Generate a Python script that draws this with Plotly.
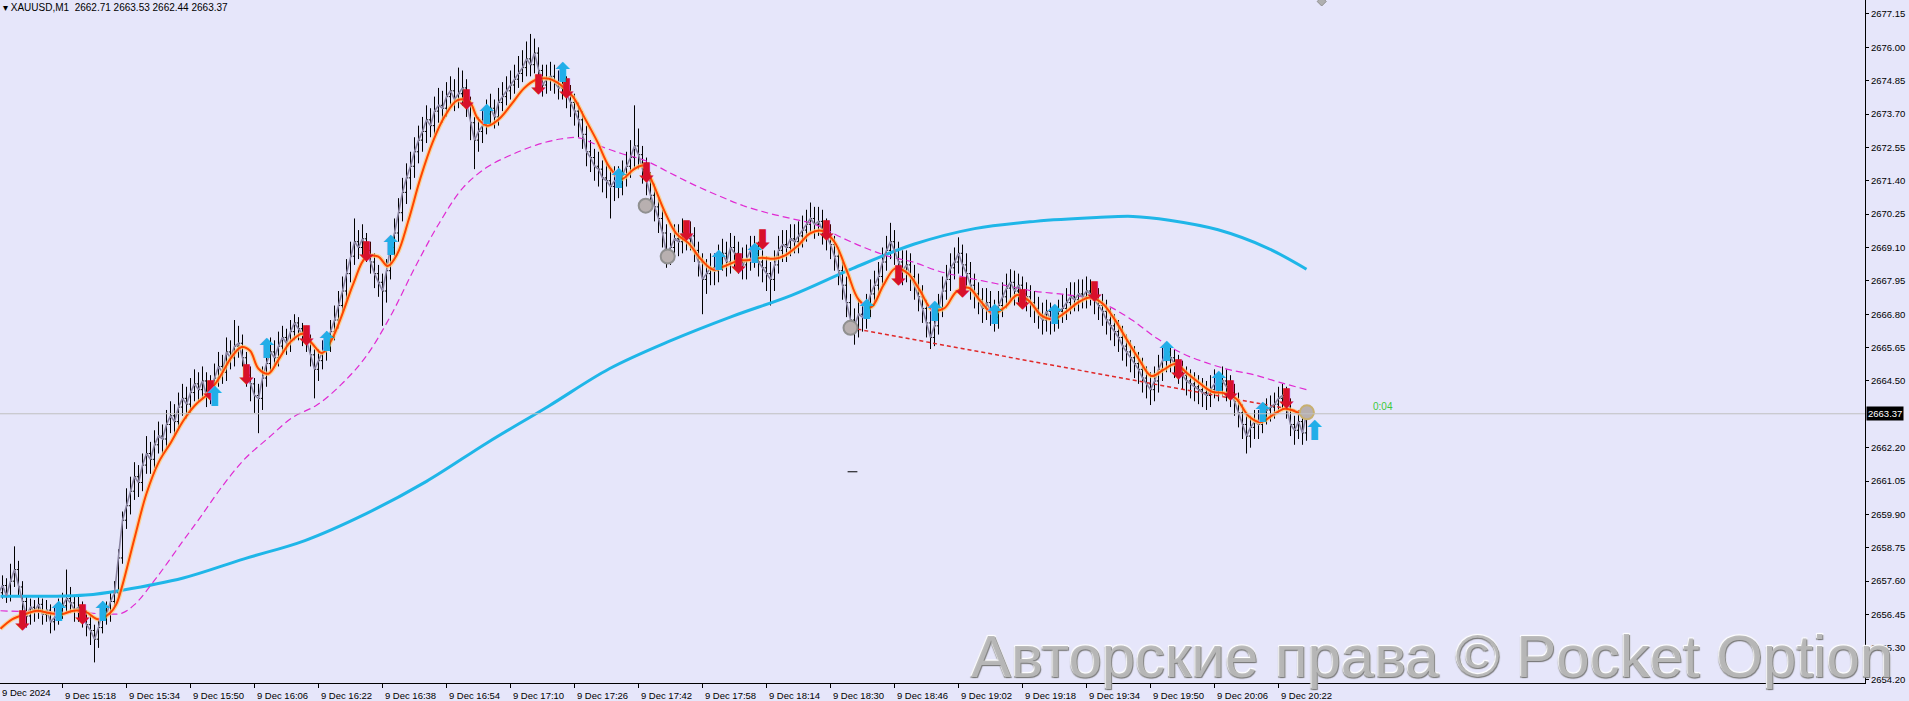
import plotly.graph_objects as go

# ---------------- data ----------------
closes = [2657.20, 2657.45, 2657.10, 2657.60, 2658.00, 2657.40, 2656.90, 2656.40, 2656.70, 2656.55,
 2656.80, 2656.45, 2656.60, 2656.20, 2656.35, 2656.60, 2656.75, 2657.00, 2656.85, 2656.60,
 2656.70, 2656.40, 2656.10, 2655.90, 2655.60, 2656.00, 2656.60, 2656.45, 2656.90, 2657.20,
 2658.40, 2659.70, 2660.20, 2660.70, 2661.20, 2661.00, 2661.60, 2662.00, 2661.80, 2662.30,
 2662.60, 2662.50, 2663.00, 2663.30, 2663.10, 2663.60, 2663.90, 2663.70, 2664.10, 2664.40,
 2664.20, 2664.50, 2664.00, 2664.20, 2664.60, 2665.00, 2664.80, 2665.50, 2665.30, 2665.70,
 2665.80, 2665.30, 2664.70, 2664.40, 2664.00, 2663.90, 2664.60, 2665.10, 2665.50, 2665.30,
 2665.70, 2666.00, 2665.80, 2666.20, 2666.50, 2666.30, 2666.10, 2665.90, 2665.40, 2664.90,
 2665.20, 2665.50, 2665.80, 2666.20, 2666.60, 2667.10, 2667.60, 2668.20, 2668.80, 2669.30,
 2669.10, 2669.40, 2669.00, 2668.60, 2668.20, 2667.90, 2667.60, 2668.30, 2669.10, 2669.60,
 2670.30, 2671.00, 2671.50, 2671.90, 2672.40, 2672.80, 2673.10, 2673.50, 2673.30, 2673.80,
 2674.00, 2673.90, 2674.30, 2674.50, 2674.20, 2674.40, 2674.60, 2674.10, 2673.40, 2672.80,
 2673.10, 2673.30, 2673.70, 2673.90, 2673.60, 2674.10, 2674.30, 2674.50, 2674.70, 2674.90,
 2675.10, 2675.30, 2675.60, 2675.40, 2675.80, 2675.20, 2674.70, 2674.90, 2675.00, 2674.80,
 2674.60, 2674.70, 2674.40, 2674.10, 2673.80, 2673.50, 2673.00, 2672.40, 2672.20, 2671.90,
 2671.80, 2671.50, 2671.40, 2671.20, 2671.40, 2671.30, 2671.60, 2671.90, 2672.20, 2672.60,
 2672.30, 2671.80, 2671.40, 2670.90, 2670.50, 2670.10, 2669.60, 2668.90, 2669.10, 2669.40,
 2669.30, 2669.60, 2669.40, 2669.50, 2669.00, 2668.60, 2668.00, 2668.20, 2668.40, 2668.30,
 2668.70, 2668.90, 2668.60, 2669.10, 2668.90, 2668.70, 2668.50, 2668.70, 2669.00, 2668.90,
 2668.60, 2668.40, 2668.20, 2668.00, 2668.50, 2669.00, 2669.20, 2669.10, 2669.40, 2669.30,
 2669.50, 2669.70, 2669.90, 2670.10, 2669.90, 2670.00, 2669.70, 2669.50, 2669.20, 2668.80,
 2668.30, 2667.80, 2667.20, 2666.60, 2666.40, 2666.80, 2666.70, 2667.00, 2667.50, 2667.80,
 2668.10, 2668.60, 2669.00, 2669.30, 2669.00, 2668.60, 2668.30, 2668.50, 2668.10, 2667.80,
 2667.40, 2667.00, 2666.50, 2666.00, 2666.40, 2667.00, 2667.60, 2668.00, 2668.40, 2668.60,
 2668.90, 2668.50, 2668.20, 2667.80, 2667.50, 2667.30, 2667.00, 2667.20, 2666.90, 2666.70,
 2667.10, 2667.40, 2667.70, 2667.90, 2667.60, 2667.80, 2667.50, 2667.40, 2667.20, 2667.00,
 2666.80, 2666.60, 2666.90, 2666.60, 2666.70, 2666.90, 2667.00, 2667.20, 2667.40, 2667.30,
 2667.50, 2667.40, 2667.60, 2667.50, 2667.30, 2667.10, 2666.90, 2666.60, 2666.40, 2666.20,
 2666.00, 2665.70, 2665.50, 2665.30, 2665.10, 2664.90, 2664.60, 2664.40, 2664.20, 2664.50,
 2664.90, 2665.20, 2665.50, 2665.30, 2665.10, 2664.90, 2664.70, 2664.50, 2664.40, 2664.30,
 2664.20, 2664.10, 2664.00, 2664.20, 2664.40, 2664.30, 2664.50, 2664.30, 2664.10, 2663.80,
 2663.40, 2663.00, 2662.60, 2662.90, 2663.10, 2663.00, 2663.30, 2663.50, 2663.60, 2663.70,
 2663.90, 2664.00, 2663.60, 2663.00, 2662.80, 2663.10, 2662.71, 2663.37]

opens = [2657.00, 2657.20, 2657.45, 2657.10, 2657.60, 2658.00, 2657.40, 2656.90, 2656.40, 2656.70,
 2656.55, 2656.80, 2656.45, 2656.60, 2656.20, 2656.35, 2656.60, 2656.75, 2657.00, 2656.85,
 2656.60, 2656.70, 2656.40, 2656.10, 2655.90, 2655.60, 2656.00, 2656.60, 2656.45, 2656.90,
 2657.20, 2658.40, 2659.70, 2660.20, 2660.70, 2661.20, 2661.00, 2661.60, 2662.00, 2661.80,
 2662.30, 2662.60, 2662.50, 2663.00, 2663.30, 2663.10, 2663.60, 2663.90, 2663.70, 2664.10,
 2664.40, 2664.20, 2664.50, 2664.00, 2664.20, 2664.60, 2665.00, 2664.80, 2665.50, 2665.30,
 2665.70, 2665.80, 2665.30, 2664.70, 2664.40, 2664.00, 2663.90, 2664.60, 2665.10, 2665.50,
 2665.30, 2665.70, 2666.00, 2665.80, 2666.20, 2666.50, 2666.30, 2666.10, 2665.90, 2665.40,
 2664.90, 2665.20, 2665.50, 2665.80, 2666.20, 2666.60, 2667.10, 2667.60, 2668.20, 2668.80,
 2669.30, 2669.10, 2669.40, 2669.00, 2668.60, 2668.20, 2667.90, 2667.60, 2668.30, 2669.10,
 2669.60, 2670.30, 2671.00, 2671.50, 2671.90, 2672.40, 2672.80, 2673.10, 2673.50, 2673.30,
 2673.80, 2674.00, 2673.90, 2674.30, 2674.50, 2674.20, 2674.40, 2674.60, 2674.10, 2673.40,
 2672.80, 2673.10, 2673.30, 2673.70, 2673.90, 2673.60, 2674.10, 2674.30, 2674.50, 2674.70,
 2674.90, 2675.10, 2675.30, 2675.60, 2675.40, 2675.80, 2675.20, 2674.70, 2674.90, 2675.00,
 2674.80, 2674.60, 2674.70, 2674.40, 2674.10, 2673.80, 2673.50, 2673.00, 2672.40, 2672.20,
 2671.90, 2671.80, 2671.50, 2671.40, 2671.20, 2671.40, 2671.30, 2671.60, 2671.90, 2672.20,
 2672.60, 2672.30, 2671.80, 2671.40, 2670.90, 2670.50, 2670.10, 2669.60, 2668.90, 2669.10,
 2669.40, 2669.30, 2669.60, 2669.40, 2669.50, 2669.00, 2668.60, 2668.00, 2668.20, 2668.40,
 2668.30, 2668.70, 2668.90, 2668.60, 2669.10, 2668.90, 2668.70, 2668.50, 2668.70, 2669.00,
 2668.90, 2668.60, 2668.40, 2668.20, 2668.00, 2668.50, 2669.00, 2669.20, 2669.10, 2669.40,
 2669.30, 2669.50, 2669.70, 2669.90, 2670.10, 2669.90, 2670.00, 2669.70, 2669.50, 2669.20,
 2668.80, 2668.30, 2667.80, 2667.20, 2666.60, 2666.40, 2666.80, 2666.70, 2667.00, 2667.50,
 2667.80, 2668.10, 2668.60, 2669.00, 2669.30, 2669.00, 2668.60, 2668.30, 2668.50, 2668.10,
 2667.80, 2667.40, 2667.00, 2666.50, 2666.00, 2666.40, 2667.00, 2667.60, 2668.00, 2668.40,
 2668.60, 2668.90, 2668.50, 2668.20, 2667.80, 2667.50, 2667.30, 2667.00, 2667.20, 2666.90,
 2666.70, 2667.10, 2667.40, 2667.70, 2667.90, 2667.60, 2667.80, 2667.50, 2667.40, 2667.20,
 2667.00, 2666.80, 2666.60, 2666.90, 2666.60, 2666.70, 2666.90, 2667.00, 2667.20, 2667.40,
 2667.30, 2667.50, 2667.40, 2667.60, 2667.50, 2667.30, 2667.10, 2666.90, 2666.60, 2666.40,
 2666.20, 2666.00, 2665.70, 2665.50, 2665.30, 2665.10, 2664.90, 2664.60, 2664.40, 2664.20,
 2664.50, 2664.90, 2665.20, 2665.50, 2665.30, 2665.10, 2664.90, 2664.70, 2664.50, 2664.40,
 2664.30, 2664.20, 2664.10, 2664.00, 2664.20, 2664.40, 2664.30, 2664.50, 2664.30, 2664.10,
 2663.80, 2663.40, 2663.00, 2662.60, 2662.90, 2663.10, 2663.00, 2663.30, 2663.50, 2663.60,
 2663.70, 2663.90, 2664.00, 2663.60, 2663.00, 2662.80, 2663.10, 2662.71]

highs = [2657.55, 2657.80, 2657.70, 2658.20, 2658.80, 2658.30, 2657.60, 2657.10, 2657.00, 2656.95,
 2657.10, 2657.00, 2656.95, 2656.80, 2656.70, 2657.00, 2657.20, 2658.00, 2657.40, 2657.10,
 2657.10, 2656.90, 2656.60, 2656.40, 2656.10, 2656.30, 2656.90, 2656.90, 2657.20, 2657.60,
 2658.70, 2660.00, 2660.80, 2661.20, 2661.70, 2661.60, 2662.00, 2662.60, 2662.40, 2662.80,
 2663.10, 2663.00, 2663.50, 2663.80, 2663.70, 2664.10, 2664.40, 2664.30, 2664.60, 2664.90,
 2664.80, 2665.00, 2664.80, 2664.70, 2665.10, 2665.50, 2665.40, 2666.00, 2665.90, 2666.60,
 2666.40, 2666.10, 2665.50, 2665.00, 2664.60, 2664.40, 2665.00, 2665.60, 2666.00, 2665.90,
 2666.20, 2666.40, 2666.30, 2666.60, 2666.80, 2666.70, 2666.50, 2666.40, 2666.10, 2665.60,
 2665.60, 2665.90, 2666.20, 2666.60, 2667.10, 2667.60, 2668.10, 2668.70, 2669.30, 2670.10,
 2669.70, 2669.90, 2669.60, 2669.30, 2668.90, 2668.50, 2668.20, 2668.70, 2669.50, 2670.10,
 2670.80, 2671.50, 2672.00, 2672.40, 2672.90, 2673.30, 2673.60, 2674.00, 2673.90, 2674.30,
 2674.60, 2674.50, 2674.80, 2675.00, 2674.90, 2675.30, 2675.20, 2674.90, 2674.30, 2673.60,
 2673.60, 2673.80, 2674.20, 2674.40, 2674.20, 2674.60, 2674.80, 2675.00, 2675.20, 2675.40,
 2675.70, 2675.90, 2676.20, 2676.46, 2676.30, 2676.00, 2675.40, 2675.40, 2675.50, 2675.40,
 2675.20, 2675.10, 2675.00, 2674.70, 2674.40, 2674.10, 2673.80, 2673.30, 2672.80, 2672.50,
 2672.40, 2672.10, 2672.00, 2671.80, 2671.90, 2671.90, 2672.10, 2672.40, 2672.80, 2674.00,
 2673.20, 2672.60, 2672.20, 2671.70, 2671.30, 2670.90, 2670.40, 2669.90, 2669.60, 2669.90,
 2669.90, 2670.10, 2670.00, 2670.00, 2669.80, 2669.30, 2668.90, 2668.70, 2668.90, 2668.90,
 2669.20, 2669.40, 2669.30, 2669.60, 2669.50, 2669.30, 2669.10, 2669.20, 2669.50, 2669.50,
 2669.30, 2669.00, 2668.80, 2668.60, 2669.00, 2669.50, 2669.70, 2669.70, 2669.90, 2669.90,
 2670.00, 2670.20, 2670.40, 2670.65, 2670.50, 2670.50, 2670.40, 2670.10, 2669.90, 2669.50,
 2669.10, 2668.60, 2668.10, 2667.50, 2667.00, 2667.30, 2667.20, 2667.50, 2668.00, 2668.30,
 2668.60, 2669.10, 2669.50, 2669.95, 2669.70, 2669.30, 2669.00, 2669.00, 2668.90, 2668.50,
 2668.20, 2667.80, 2667.30, 2666.90, 2666.90, 2667.50, 2668.10, 2668.50, 2668.90, 2669.10,
 2669.45, 2669.20, 2668.90, 2668.60, 2668.20, 2667.90, 2667.70, 2667.70, 2667.60, 2667.30,
 2667.60, 2667.90, 2668.20, 2668.35, 2668.30, 2668.20, 2668.10, 2667.90, 2667.80, 2667.60,
 2667.40, 2667.20, 2667.30, 2667.20, 2667.10, 2667.30, 2667.50, 2667.70, 2667.90, 2667.90,
 2668.00, 2668.00, 2668.10, 2668.00, 2667.90, 2667.70, 2667.50, 2667.30, 2667.00, 2666.80,
 2666.60, 2666.40, 2666.10, 2665.90, 2665.70, 2665.50, 2665.30, 2665.00, 2664.80, 2665.00,
 2665.40, 2665.70, 2665.75, 2665.70, 2665.60, 2665.40, 2665.20, 2665.00, 2664.90, 2664.80,
 2664.70, 2664.60, 2664.50, 2664.70, 2664.90, 2664.80, 2665.00, 2664.90, 2664.70, 2664.40,
 2664.10, 2663.70, 2663.30, 2663.30, 2663.50, 2663.50, 2663.70, 2663.90, 2664.00, 2664.10,
 2664.30, 2664.40, 2664.30, 2663.90, 2663.30, 2663.50, 2663.40, 2663.53]

lows = [2656.80, 2657.00, 2656.85, 2656.90, 2657.40, 2657.10, 2656.50, 2656.00, 2656.10, 2656.20,
 2656.30, 2656.10, 2656.20, 2655.80, 2655.90, 2656.10, 2656.30, 2656.50, 2656.50, 2656.20,
 2656.20, 2656.00, 2655.70, 2655.40, 2654.80, 2655.30, 2655.80, 2656.10, 2656.20, 2656.70,
 2657.00, 2658.20, 2659.40, 2659.90, 2660.40, 2660.50, 2660.70, 2661.30, 2661.30, 2661.50,
 2662.00, 2662.00, 2662.20, 2662.70, 2662.60, 2662.80, 2663.30, 2663.20, 2663.40, 2663.80,
 2663.80, 2663.90, 2663.60, 2663.70, 2663.90, 2664.30, 2664.40, 2664.50, 2664.90, 2665.00,
 2665.30, 2665.00, 2664.30, 2663.80, 2663.40, 2662.70, 2663.50, 2664.30, 2664.80, 2665.00,
 2665.00, 2665.40, 2665.40, 2665.50, 2665.90, 2665.90, 2665.70, 2665.50, 2665.00, 2663.90,
 2664.50, 2664.90, 2665.20, 2665.50, 2665.90, 2666.30, 2666.80, 2667.30, 2667.90, 2668.50,
 2668.70, 2668.80, 2668.60, 2668.20, 2667.70, 2667.40, 2666.40, 2667.20, 2668.00, 2668.80,
 2669.30, 2670.00, 2670.60, 2671.10, 2671.50, 2672.00, 2672.40, 2672.70, 2672.90, 2673.00,
 2673.40, 2673.40, 2673.60, 2674.00, 2673.80, 2673.90, 2674.00, 2673.60, 2672.80, 2671.80,
 2672.40, 2672.70, 2673.00, 2673.30, 2673.20, 2673.30, 2673.80, 2674.00, 2674.20, 2674.40,
 2674.60, 2674.80, 2675.00, 2675.00, 2675.10, 2674.80, 2674.30, 2674.40, 2674.50, 2674.40,
 2674.20, 2674.20, 2673.90, 2673.60, 2673.30, 2672.90, 2672.50, 2671.90, 2671.70, 2671.40,
 2671.20, 2671.00, 2670.80, 2670.10, 2670.70, 2670.80, 2670.90, 2671.20, 2671.50, 2671.80,
 2671.80, 2671.30, 2670.90, 2670.40, 2670.00, 2669.60, 2669.10, 2668.40, 2668.50, 2668.70,
 2668.80, 2668.90, 2669.00, 2669.00, 2668.60, 2668.10, 2666.80, 2667.50, 2667.80, 2667.80,
 2667.90, 2668.30, 2668.10, 2668.20, 2668.40, 2668.20, 2668.00, 2668.00, 2668.30, 2668.40,
 2668.10, 2667.90, 2667.60, 2667.10, 2667.60, 2668.20, 2668.60, 2668.60, 2668.80, 2668.90,
 2668.90, 2669.10, 2669.30, 2669.60, 2669.40, 2669.50, 2669.20, 2669.00, 2668.70, 2668.30,
 2667.80, 2667.30, 2666.70, 2666.10, 2665.75, 2666.00, 2666.20, 2666.30, 2666.70, 2667.10,
 2667.40, 2667.80, 2668.30, 2668.70, 2668.50, 2668.10, 2667.80, 2667.90, 2667.60, 2667.30,
 2666.90, 2666.50, 2666.00, 2665.60, 2665.70, 2666.10, 2666.70, 2667.30, 2667.60, 2668.00,
 2668.20, 2668.00, 2667.70, 2667.30, 2667.00, 2666.80, 2666.50, 2666.60, 2666.40, 2666.20,
 2666.30, 2666.70, 2667.00, 2667.30, 2667.10, 2667.20, 2667.00, 2666.90, 2666.70, 2666.50,
 2666.30, 2666.10, 2666.20, 2666.10, 2666.20, 2666.30, 2666.50, 2666.60, 2666.80, 2666.90,
 2666.90, 2667.00, 2667.00, 2667.10, 2666.80, 2666.60, 2666.40, 2666.10, 2665.90, 2665.70,
 2665.50, 2665.20, 2665.00, 2664.80, 2664.60, 2664.40, 2664.10, 2663.90, 2663.67, 2663.80,
 2664.10, 2664.50, 2664.80, 2664.80, 2664.60, 2664.40, 2664.20, 2664.00, 2663.90, 2663.80,
 2663.70, 2663.60, 2663.50, 2663.60, 2663.90, 2663.80, 2664.00, 2663.80, 2663.60, 2663.30,
 2662.90, 2662.50, 2662.00, 2662.20, 2662.50, 2662.50, 2662.70, 2663.00, 2663.10, 2663.20,
 2663.40, 2663.50, 2663.20, 2662.60, 2662.30, 2662.50, 2662.30, 2662.44]

# fast MA (orange) sampled along the line: bar index, price
fast_ma_idx = [0.5, 3.5, 6.6, 9.6, 12.7, 15.7, 18.8, 21.8, 24.9, 27.9, 29.4, 30.9, 34.0, 37.0, 40.1,
 43.1, 46.2, 49.2, 52.2, 55.3, 58.3, 60.8, 62.9, 65.0, 67.5, 69.9, 72.9, 76.0, 78.4, 80.9, 83.3,
 85.7, 88.8, 91.8, 94.9, 97.3, 99.7, 102.5, 105.5, 108.6, 111.6, 114.7, 117.7, 119.8, 122.3, 125.3,
 128.3, 131.4, 134.4, 137.5, 140.5, 143.6, 146.6, 149.7, 152.7, 155.7, 158.8, 161.2, 163.4, 166.4,
 169.4, 172.5, 175.5, 178.6, 181.6, 184.7, 187.7, 190.8, 193.8, 196.8, 199.9, 202.9, 206.0, 209.0,
 212.1, 215.1, 218.1, 221.2, 224.2, 227.3, 230.3, 233.4, 236.4, 239.5, 242.5, 245.5, 248.6, 251.6,
 254.7, 257.7, 260.8, 263.8, 266.9, 269.9, 272.9, 276.0, 279.0, 282.1, 285.1, 288.2, 291.2, 294.2,
 297.3, 300.3, 303.4, 306.4, 309.5, 312.5, 315.5, 318.6, 321.6, 324.7, 327.0]
fast_ma_val = [2655.96, 2656.29, 2656.46, 2656.58, 2656.50, 2656.46, 2656.58, 2656.54, 2656.29, 2656.50,
 2656.79, 2657.42, 2659.08, 2660.62, 2661.71, 2662.38, 2663.13, 2663.67, 2664.04, 2664.63, 2665.33,
 2665.67, 2665.54, 2664.92, 2664.75, 2665.21, 2665.83, 2666.13, 2665.79, 2665.46, 2665.92, 2666.71,
 2667.88, 2668.75, 2668.79, 2668.46, 2668.88, 2670.04, 2671.50, 2672.75, 2673.63, 2674.17, 2674.13,
 2673.55, 2673.30, 2673.55, 2674.05, 2674.59, 2674.88, 2674.92, 2674.71, 2674.30, 2673.55, 2672.75,
 2671.88, 2671.46, 2671.79, 2671.92, 2671.38, 2670.38, 2669.59, 2669.25, 2668.71, 2668.34, 2668.46,
 2668.63, 2668.67, 2668.75, 2668.71, 2668.84, 2669.17, 2669.59, 2669.67, 2669.29, 2668.29, 2667.29,
 2667.04, 2667.79, 2668.38, 2668.21, 2667.63, 2666.96, 2667.00, 2667.58, 2667.71, 2667.25, 2666.83,
 2667.04, 2667.46, 2667.25, 2666.75, 2666.63, 2666.88, 2667.21, 2667.38, 2667.17, 2666.63, 2665.92,
 2665.25, 2664.67, 2664.88, 2665.08, 2664.75, 2664.42, 2664.13, 2664.08, 2663.88, 2663.29, 2663.08,
 2663.33, 2663.54, 2663.42, 2663.25]

# slow MA (magenta dashed)
slow_ma_idx = [0.5, 9.6, 18.8, 27.9, 30.9, 34.0, 40.1, 46.2, 50.4, 55.3, 61.4, 67.5, 73.6, 79.6, 85.7,
 91.8, 97.9, 104.0, 110.1, 116.2, 122.3, 128.3, 134.4, 140.5, 145.1, 149.7, 155.7, 161.8, 167.9,
 174.0, 180.1, 186.2, 192.3, 198.4, 204.4, 210.5, 216.6, 222.7, 228.8, 234.9, 241.0, 247.1, 253.2,
 259.2, 265.3, 271.4, 277.5, 283.6, 289.7, 295.8, 301.9, 307.9, 314.0, 320.1, 327.0]
slow_ma_val = [2656.58, 2656.54, 2656.54, 2656.46, 2656.50, 2656.79, 2657.83, 2659.00, 2659.79, 2660.75,
 2661.79, 2662.54, 2663.25, 2663.67, 2664.38, 2665.33, 2666.71, 2668.38, 2669.92, 2671.17, 2671.88,
 2672.30, 2672.63, 2672.84, 2672.88, 2672.63, 2672.34, 2672.09, 2671.67, 2671.25, 2670.88, 2670.54,
 2670.29, 2670.09, 2669.88, 2669.46, 2669.09, 2668.79, 2668.59, 2668.29, 2668.09, 2667.92, 2667.75,
 2667.59, 2667.50, 2667.38, 2667.08, 2666.58, 2665.96, 2665.46, 2665.13, 2664.88, 2664.71, 2664.46,
 2664.20]

# long MA (thick cyan)
long_ma_idx = [0.5, 12.7, 21.8, 30.9, 46.2, 61.4, 76.6, 91.8, 107.0, 122.3, 137.5, 152.7, 167.9, 183.1,
 198.4, 213.6, 228.8, 244.0, 259.2, 274.5, 283.6, 292.7, 304.9, 317.1, 327.0]
long_ma_val = [2657.08, 2657.08, 2657.12, 2657.29, 2657.71, 2658.37, 2659.00, 2659.92, 2661.04, 2662.38,
 2663.63, 2664.92, 2665.88, 2666.71, 2667.46, 2668.38, 2669.21, 2669.75, 2670.00, 2670.13, 2670.17,
 2670.04, 2669.71, 2669.09, 2668.35]

# signal arrows
sell_idx = [6, 21, 53, 62, 77, 92, 117, 135, 142, 162, 172, 185, 191, 207, 225, 241, 256, 274, 295, 308, 322]
sell_val = [2656.16, 2656.37, 2664.08, 2664.63, 2665.96, 2668.88, 2674.09, 2674.63, 2674.50, 2671.59,
 2669.59, 2668.46, 2669.29, 2669.59, 2668.04, 2667.63, 2667.21, 2667.50, 2664.79, 2664.08, 2663.79]
buy_idx = [15, 26, 54, 67, 82, 98, 122, 141, 155, 180, 189, 217, 234, 249, 264, 292, 305, 316, 329]
buy_val = [2656.46, 2656.46, 2663.88, 2665.54, 2665.75, 2669.08, 2673.59, 2675.05, 2671.38, 2668.54,
 2668.79, 2666.88, 2666.79, 2666.71, 2666.71, 2665.42, 2664.38, 2663.33, 2662.71]

# grey circle marks
dot_idx = [161.8, 167.3, 213.0, 327.1]
dot_val = [2670.54, 2668.79, 2666.33, 2663.42]

# red dotted trend line
trend_idx = [213.0, 327.1]
trend_val = [2666.33, 2663.42]

# small chart objects
dash_obj_idx = [213.5]
dash_obj_val = [2661.37]
diamond_obj_idx = [330.8]
diamond_obj_val = [2677.58]

# time axis
time_tick_idx = [16, 32, 48, 64, 80, 96, 112, 128, 144, 160, 176, 192, 208, 224, 240, 256, 272, 288, 304, 320]
time_tick_text = ["9 Dec 15:18", "9 Dec 15:34", "9 Dec 15:50", "9 Dec 16:06", "9 Dec 16:22",
 "9 Dec 16:38", "9 Dec 16:54", "9 Dec 17:10", "9 Dec 17:26", "9 Dec 17:42", "9 Dec 17:58",
 "9 Dec 18:14", "9 Dec 18:30", "9 Dec 18:46", "9 Dec 19:02", "9 Dec 19:18", "9 Dec 19:34",
 "9 Dec 19:50", "9 Dec 20:06", "9 Dec 20:22"]
first_date_label = "9 Dec 2024"

# price axis
price_ticks = [2654.20, 2655.30, 2656.45, 2657.60, 2658.75, 2659.90, 2661.05, 2662.20, 2664.50, 2665.65,
 2666.80, 2667.95, 2669.10, 2670.25, 2671.40, 2672.55, 2673.70, 2674.85, 2676.00, 2677.15]

symbol_name = "XAUUSD,M1"
timer_text = "0:04"
timer_idx = 343
watermark = "Авторские права © Pocket Option"

# ---------------- figure ----------------
bar_idx = list(range(len(closes)))
FONT = "Liberation Sans, Arial, sans-serif"
BG = "#E6E6FA"

fig = go.Figure()

fig.add_trace(go.Ohlc(
    x=bar_idx, open=opens, high=highs, low=lows, close=closes,
    increasing=dict(line=dict(color="black", width=1)),
    decreasing=dict(line=dict(color="black", width=1)),
    tickwidth=0.4, showlegend=False, hoverinfo="none"))

fig.add_trace(go.Scatter(x=long_ma_idx, y=long_ma_val, mode="lines",
                         line=dict(color="#1FB6E8", width=3, shape="spline"),
                         showlegend=False, hoverinfo="skip"))
fig.add_trace(go.Scatter(x=slow_ma_idx, y=slow_ma_val, mode="lines",
                         line=dict(color="#E02AD2", width=1.2, dash="7px,4px", shape="spline"),
                         showlegend=False, hoverinfo="skip"))
fig.add_trace(go.Scatter(x=trend_idx, y=trend_val, mode="lines",
                         line=dict(color="#E02828", width=1.5, dash="4px,3px"),
                         showlegend=False, hoverinfo="skip"))
fig.add_trace(go.Scatter(x=bar_idx, y=closes, mode="lines",
                         line=dict(color="#8A84A2", width=1.6),
                         showlegend=False, hoverinfo="skip"))
fig.add_trace(go.Scatter(x=fast_ma_idx, y=fast_ma_val, mode="lines",
                         line=dict(color="rgba(255,205,120,0.75)", width=4.5, shape="spline"),
                         showlegend=False, hoverinfo="skip"))
fig.add_trace(go.Scatter(x=fast_ma_idx, y=fast_ma_val, mode="lines",
                         line=dict(color="#FF4500", width=2, shape="spline"),
                         showlegend=False, hoverinfo="skip"))

fig.add_trace(go.Scatter(x=sell_idx, y=sell_val, mode="text", text=["⬇"] * len(sell_idx),
                         textfont=dict(color="#D8102A", size=27, family="DejaVu Sans", weight="bold"),
                         textposition="middle center", showlegend=False, hoverinfo="skip"))
fig.add_trace(go.Scatter(x=buy_idx, y=buy_val, mode="text", text=["⬆"] * len(buy_idx),
                         textfont=dict(color="#22AEE8", size=27, family="DejaVu Sans", weight="bold"),
                         textposition="middle center", showlegend=False, hoverinfo="skip"))
fig.add_trace(go.Scatter(x=dot_idx, y=dot_val, mode="markers",
                         marker=dict(symbol="circle", size=14, color="#B8B0B0",
                                     line=dict(color=["#909090", "#909090", "#909090", "#C8B070"], width=2)),
                         showlegend=False, hoverinfo="skip"))
fig.add_trace(go.Scatter(x=dash_obj_idx, y=dash_obj_val, mode="markers",
                         marker=dict(symbol="line-ew", size=7, line=dict(color="black", width=1)),
                         showlegend=False, hoverinfo="skip"))
fig.add_trace(go.Scatter(x=diamond_obj_idx, y=diamond_obj_val, mode="markers", cliponaxis=False,
                         marker=dict(symbol="diamond", size=7, color="#B0B0B0",
                                     line=dict(color="#909090", width=1)),
                         showlegend=False, hoverinfo="skip"))

last_close = closes[-1]
fig.add_hline(y=last_close, line=dict(color="#C0C0C0", width=1))

header = "▾ " + symbol_name + "\u00a0\u00a0" + " ".join(
    f"{v:.2f}" for v in (opens[-1], highs[-1], lows[-1], closes[-1]))

annotations = [
    dict(text=header, xref="paper", yref="paper", x=0, y=1, xanchor="left", yanchor="top",
         xshift=1, yshift=0, showarrow=False, font=dict(family=FONT, size=10, color="black")),
    dict(text=f"{last_close:.2f}", xref="paper", yref="y", x=1, y=last_close, xanchor="left",
         yanchor="middle", xshift=1, showarrow=False, bgcolor="black", borderpad=1,
         font=dict(family=FONT, size=9.5, color="white")),
    dict(text=timer_text, xref="x", yref="y", x=timer_idx, y=last_close, xanchor="left",
         yanchor="bottom", showarrow=False, font=dict(family=FONT, size=10, color="#3CC83C")),
    dict(text=first_date_label, xref="paper", yref="paper", x=0, y=0, xanchor="left",
         yanchor="top", yshift=-2, showarrow=False, font=dict(family=FONT, size=9.5, color="black")),
    dict(text=watermark, xref="paper", yref="paper", x=1.016, y=0.004, xanchor="right",
         yanchor="bottom", yshift=-12, showarrow=False,
         font=dict(family=FONT, size=60, color="rgba(185,185,185,0.95)",
                   shadow="1px 1px 1px #777777, -1px -1px 1px #ffffff, 1px -1px 1px #ffffff, -1px 1px 1px #959595")),
]

fig.update_layout(
    width=1909, height=701,
    margin=dict(l=0, r=44, t=0, b=15),
    paper_bgcolor=BG, plot_bgcolor=BG,
    showlegend=False,
    font=dict(family=FONT, size=9.5, color="black"),
    annotations=annotations,
    xaxis=dict(range=[0.375, 466.625], showgrid=False, zeroline=False, showline=True,
               linecolor="black", linewidth=1, ticks="outside", ticklen=4, tickcolor="black",
               tickvals=time_tick_idx, ticktext=time_tick_text, ticklabelshift=28,
               tickfont=dict(family=FONT, size=9.5, color="black"),
               rangeslider=dict(visible=False), fixedrange=True),
    yaxis=dict(range=[2654.09, 2677.63], side="right", showgrid=False, zeroline=False,
               showline=True, linecolor="black", linewidth=1, ticks="outside", ticklen=3,
               tickcolor="black", tickvals=price_ticks,
               ticktext=[f"{v:.2f}" for v in price_ticks],
               tickfont=dict(family=FONT, size=9.5, color="black"), fixedrange=True),
)

fig.write_html("out.html", config={"displayModeBar": False},
               post_script="document.body.style.margin='0';document.body.style.overflow='hidden';"
                           "document.documentElement.style.overflow='hidden';")
